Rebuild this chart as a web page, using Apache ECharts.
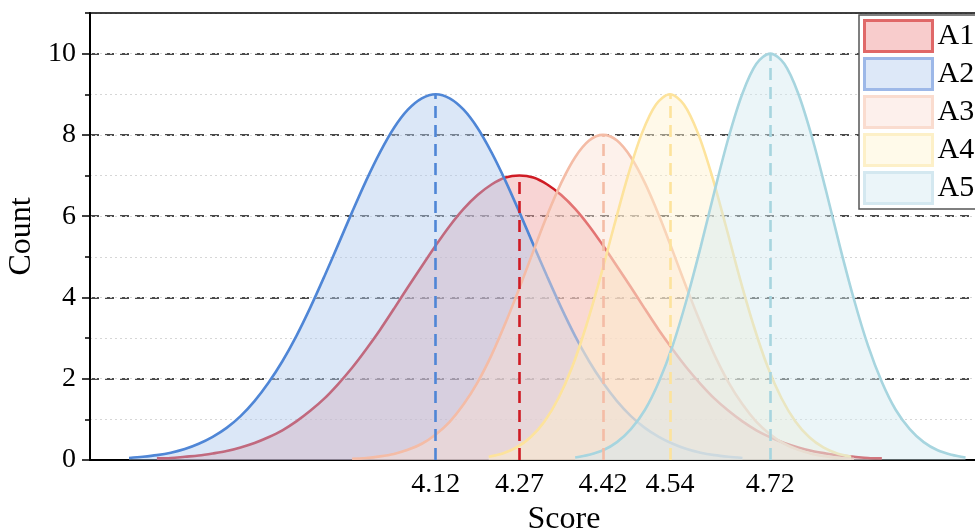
<!DOCTYPE html>
<html>
<head>
<meta charset="utf-8">
<title>Score distribution</title>
<script src="https://cdn.jsdelivr.net/npm/echarts@6/dist/echarts.min.js"></script>
<style>
  html, body { margin: 0; padding: 0; background: #fff; overflow: hidden; }
  #chart { width: 1040px; height: 529px; }
</style>
</head>
<body>
<div id="chart"></div>
<script>
// groups and their means / peak counts
const groups = ['A1', 'A2', 'A3', 'A4', 'A5']
const means = [4.27, 4.12, 4.42, 4.54, 4.72]
const peaks = [7, 9, 8, 9, 10]
const xTicks = [4.12, 4.27, 4.42, 4.54, 4.72]
const yMajor = [0, 2, 4, 6, 8, 10]

// density curves, [score, count]
const a1 = [[3.62, 0.04], [3.645, 0.05], [3.67, 0.08], [3.695, 0.11], [3.72, 0.16], [3.745, 0.22], [3.77, 0.31],
  [3.795, 0.42], [3.82, 0.56], [3.845, 0.73], [3.87, 0.95], [3.895, 1.21], [3.92, 1.51], [3.945, 1.87],
  [3.97, 2.27], [3.995, 2.72], [4.02, 3.20], [4.045, 3.72], [4.07, 4.25], [4.095, 4.77], [4.12, 5.28],
  [4.145, 5.76], [4.17, 6.18], [4.195, 6.52], [4.22, 6.78], [4.245, 6.95], [4.27, 7.00], [4.295, 6.95],
  [4.32, 6.78], [4.345, 6.52], [4.37, 6.18], [4.395, 5.76], [4.42, 5.28], [4.445, 4.77], [4.47, 4.25],
  [4.495, 3.72], [4.52, 3.20], [4.545, 2.72], [4.57, 2.27], [4.595, 1.87], [4.62, 1.51], [4.645, 1.21],
  [4.67, 0.95], [4.695, 0.73], [4.72, 0.56], [4.745, 0.42], [4.77, 0.31], [4.795, 0.22], [4.82, 0.16],
  [4.845, 0.11], [4.87, 0.08], [4.895, 0.05], [4.92, 0.04]]
const a2 = [[3.57, 0.05], [3.595, 0.08], [3.62, 0.12], [3.645, 0.18], [3.67, 0.27], [3.695, 0.40], [3.72, 0.57],
  [3.745, 0.79], [3.77, 1.08], [3.795, 1.45], [3.82, 1.90], [3.845, 2.43], [3.87, 3.05], [3.895, 3.75],
  [3.92, 4.51], [3.945, 5.30], [3.97, 6.10], [3.995, 6.87], [4.02, 7.57], [4.045, 8.17], [4.07, 8.62],
  [4.095, 8.90], [4.12, 9.00], [4.145, 8.90], [4.17, 8.62], [4.195, 8.17], [4.22, 7.57], [4.245, 6.87],
  [4.27, 6.10], [4.295, 5.30], [4.32, 4.51], [4.345, 3.75], [4.37, 3.05], [4.395, 2.43], [4.42, 1.90],
  [4.445, 1.45], [4.47, 1.08], [4.495, 0.79], [4.52, 0.57], [4.545, 0.40], [4.57, 0.27], [4.595, 0.18],
  [4.62, 0.12], [4.645, 0.08], [4.67, 0.05]]
const a3 = [[3.97, 0.03], [3.995, 0.05], [4.02, 0.09], [4.045, 0.15], [4.07, 0.25], [4.095, 0.40], [4.12, 0.63],
  [4.145, 0.94], [4.17, 1.37], [4.195, 1.91], [4.22, 2.58], [4.245, 3.37], [4.27, 4.23], [4.295, 5.14],
  [4.32, 6.03], [4.345, 6.82], [4.37, 7.45], [4.395, 7.86], [4.42, 8.00], [4.445, 7.86], [4.47, 7.45],
  [4.495, 6.82], [4.52, 6.03], [4.545, 5.14], [4.57, 4.23], [4.595, 3.37], [4.62, 2.58], [4.645, 1.91],
  [4.67, 1.37], [4.695, 0.94], [4.72, 0.63], [4.745, 0.40], [4.77, 0.25], [4.795, 0.15], [4.82, 0.09],
  [4.845, 0.05], [4.87, 0.03]]
const a4 = [[4.215, 0.08], [4.24, 0.16], [4.265, 0.31], [4.29, 0.56], [4.315, 0.95], [4.34, 1.52], [4.365, 2.30],
  [4.39, 3.31], [4.415, 4.49], [4.44, 5.77], [4.465, 7.01], [4.49, 8.05], [4.515, 8.75], [4.54, 9.00],
  [4.565, 8.75], [4.59, 8.05], [4.615, 7.01], [4.64, 5.77], [4.665, 4.49], [4.69, 3.31], [4.715, 2.30],
  [4.74, 1.52], [4.765, 0.95], [4.79, 0.56], [4.815, 0.31], [4.84, 0.16], [4.865, 0.08]]
const a5 = [[4.37, 0.06], [4.395, 0.13], [4.42, 0.24], [4.445, 0.44], [4.47, 0.76], [4.495, 1.23], [4.52, 1.92],
  [4.545, 2.82], [4.57, 3.95], [4.595, 5.24], [4.62, 6.62], [4.645, 7.93], [4.67, 9.02], [4.695, 9.75],
  [4.72, 10.00], [4.745, 9.75], [4.77, 9.02], [4.795, 7.93], [4.82, 6.62], [4.845, 5.24], [4.87, 3.95],
  [4.895, 2.82], [4.92, 1.92], [4.945, 1.23], [4.97, 0.76], [4.995, 0.44], [5.02, 0.24], [5.045, 0.13],
  [5.07, 0.06]]
const curves = [a1, a2, a3, a4, a5]

const lineColors = ['#cf1b24', '#4f86d6', '#f4bca6', '#fde39c', '#a7d5df']
const areaColors = ['#efa0a0', '#afc9ed', '#fadfd3', '#fff2ce', '#d2e9f0']
const legendFill = ['#f8cccc', '#dde8f8', '#fdf0ec', '#fffaea', '#ebf5f9']
const legendBorder = ['#e06868', '#9db8e8', '#fadccf', '#fdf0c8', '#d4e8f0']

const font = '"Liberation Serif", "Times New Roman", serif'

const chart = echarts.init(document.getElementById('chart'))

chart.setOption({
  animation: false,
  grid: { left: 90, right: 2, top: 13, bottom: 69, outerBoundsMode: 'none' },
  legend: {
    left: 859,
    top: 15,
    orient: 'vertical',
    padding: [4, 6, 4, 4],
    itemWidth: 68,
    itemHeight: 31,
    itemGap: 4,
    borderColor: '#555',
    borderWidth: 1.5,
    backgroundColor: '#fff',
    z: 30,
    textStyle: { fontFamily: font, fontSize: 30, lineHeight: 31, color: '#000' },
    data: groups.map((g, i) => ({
      name: g,
      icon: 'rect',
      itemStyle: { color: legendFill[i], borderColor: legendBorder[i], borderWidth: 3 }
    }))
  },
  xAxis: [
    {
      type: 'value',
      min: 3.5,
      max: 5.2,
      name: 'Score',
      nameLocation: 'middle',
      nameGap: 40,
      nameTextStyle: { fontFamily: font, fontSize: 32, color: '#000' },
      axisLine: { onZero: false, lineStyle: { color: '#000', width: 2 } },
      axisTick: { show: false },
      splitLine: { show: false },
      axisLabel: {
        customValues: xTicks,
        formatter: v => v.toFixed(2),
        fontFamily: font,
        fontSize: 28,
        color: '#000',
        margin: 11
      }
    },
    {
      type: 'value',
      position: 'top',
      min: 3.5,
      max: 5.2,
      axisLine: { onZero: false, lineStyle: { color: '#000', width: 1.5 } },
      axisTick: { show: false },
      axisLabel: { show: false },
      splitLine: { show: false }
    }
  ],
  yAxis: [
    {
      type: 'value',
      min: 0,
      max: 11,
      interval: 2,
      name: 'Count',
      nameLocation: 'middle',
      nameGap: 49,
      nameTextStyle: { fontFamily: font, fontSize: 32, color: '#000' },
      axisLine: { show: true, lineStyle: { color: '#000', width: 2 } },
      axisTick: { show: true, length: 8, customValues: yMajor, lineStyle: { color: '#000', width: 1.5 } },
      axisLabel: {
        customValues: yMajor,
        fontFamily: font,
        fontSize: 28,
        color: '#000',
        margin: 14
      },
      splitLine: { show: true, lineStyle: { color: '#111', width: 1.5, type: [9, 6] } }
    },
    {
      type: 'value',
      position: 'left',
      min: 0,
      max: 11,
      interval: 1,
      axisLine: { show: false },
      axisTick: { show: true, length: 5, lineStyle: { color: '#000', width: 1.5 } },
      axisLabel: { show: false },
      splitLine: { show: true, lineStyle: { color: '#d6d6d6', width: 1, type: [2, 3] } }
    }
  ],
  // later groups sit on top, so their fills tint the earlier curves
  series: groups.map((g, i) => ({
    name: g,
    type: 'line',
    z: 2 + i,
    data: curves[i],
    smooth: 0.33,
    showSymbol: false,
    lineStyle: { color: lineColors[i], width: 2.6 },
    itemStyle: { color: lineColors[i] },
    areaStyle: { color: areaColors[i], opacity: 0.45 },
    markLine: {
      z: 20,
      silent: true,
      symbol: ['none', 'none'],
      label: { show: false },
      lineStyle: { color: lineColors[i], width: 2.6, type: [12, 7] },
      data: [[{ coord: [means[i], 0] }, { coord: [means[i], peaks[i]] }]]
    }
  }))
})
</script>
</body>
</html>
